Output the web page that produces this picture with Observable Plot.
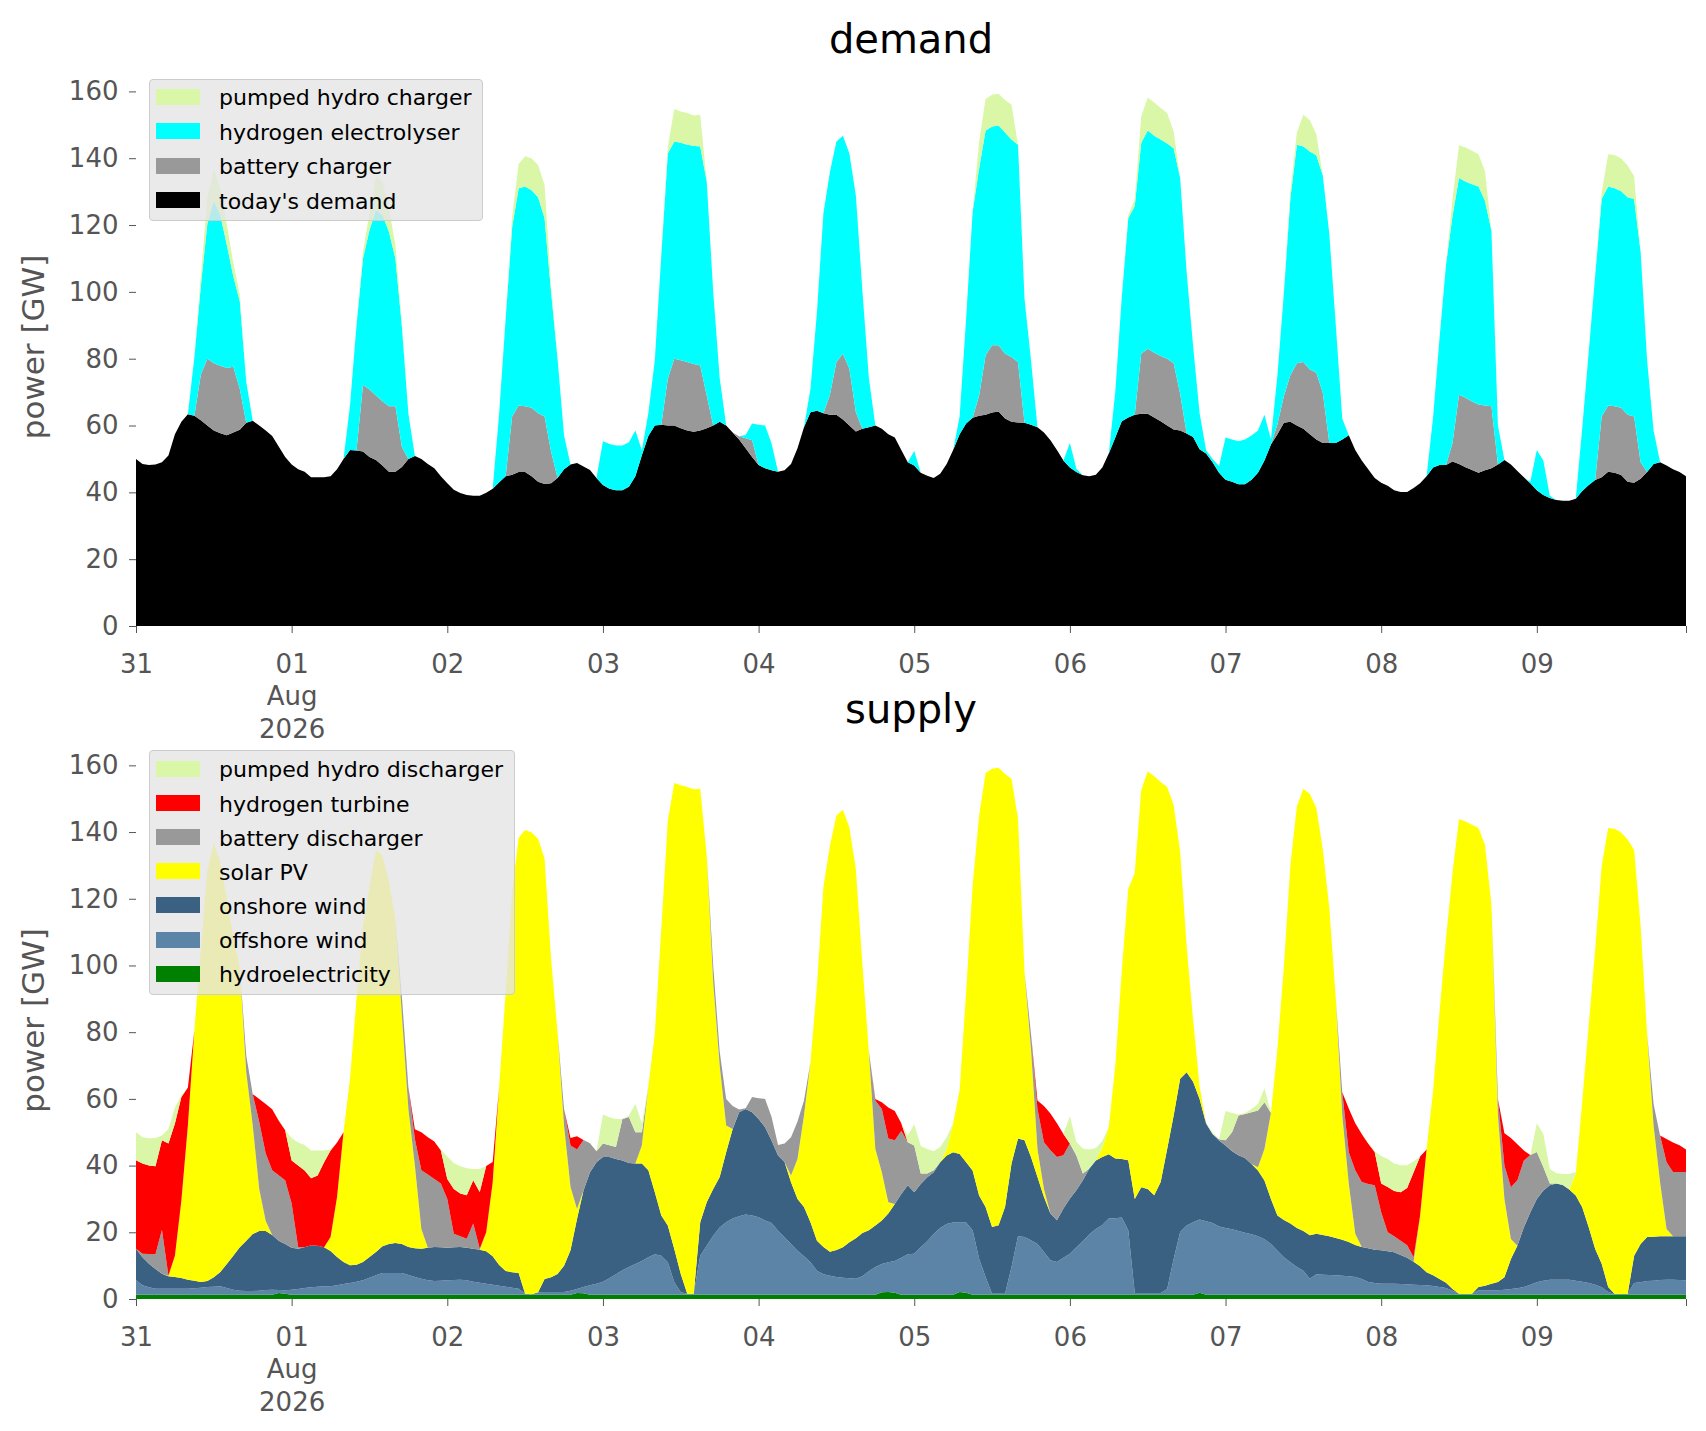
<!DOCTYPE html>
<html><head><meta charset="utf-8">
<script src="https://cdn.jsdelivr.net/npm/d3@7"></script>
<script src="https://cdn.jsdelivr.net/npm/@observablehq/plot@0.6"></script>
<style>
body{margin:0;background:#fff;font-family:"DejaVu Sans",sans-serif;}
#wrap{position:relative;width:1706px;height:1431px;overflow:hidden;background:#fff;}
#wrap svg{position:absolute;left:0;}
.title{position:absolute;left:136px;width:1550px;text-align:center;font-size:40px;line-height:40px;height:40px;color:#000;white-space:nowrap;}
.legend{position:absolute;left:149px;background:rgba(229,229,229,0.8);border:1px solid #cccccc;border-radius:4px;box-sizing:border-box;}
.sw{position:absolute;width:44px;height:16px;}
.lt{position:absolute;font-size:22px;line-height:22px;color:#000;white-space:nowrap;}
</style></head><body><div id="wrap"></div><script>
// ---- time axis: hourly from 2026-07-31 00:00 to 2026-08-09 23:00 ----
const start = Date.UTC(2026, 6, 31);
const hour = 3600e3;
const yTicks = [0, 20, 40, 60, 80, 100, 120, 140, 160];

// ---- demand side (GW) ----
const todaysDemand = [
50,48.5,48.2,48.3,49,51,57.4,61.1,63.4,62.9,61.6,60,58.5,57.7,57.1,57.9,58.7,60.8,61.4,60,58.5,56.9,53.7,50.6,
48.3,46.9,46.2,44.5,44.5,44.5,44.8,46.9,50,52.7,52.5,52.2,50.6,49.7,48,46.2,46.2,47.6,50,50.9,50,48.5,47.2,44.8,
42.7,40.8,39.8,39.2,39,39,39.9,41.1,43,44.8,45.3,46.1,46.1,44.8,43.2,42.5,42.7,44.3,46.9,48.3,48.8,47.7,46.7,44.3,
42.2,41.1,40.6,40.6,41.7,44.8,51.1,56.9,60,60.2,60,60,59.2,58.5,58.1,58.5,59.2,60,61.1,60,57.9,55.8,53.2,50.6,
48.2,47.2,46.6,46.2,46.6,48.5,53.2,59.5,64,64.4,63.7,63.2,63.2,61.8,60,58.2,59,59.5,60,59,57.4,56.4,52.7,49,
48,45.9,45,44.3,45.6,48.5,52.7,57.4,60.6,62.3,62.9,63.2,63.9,64.2,62.1,61.1,60.9,60.8,60.2,59.5,57.9,55.6,52.7,49.5,
47.4,46.1,45.1,44.8,45.3,47.4,51.6,56.4,61.3,62.4,63.2,63.5,63.5,62.4,61.3,60,58.8,58.5,57.6,56.6,52.9,51.6,49,45.9,
43.8,43.2,42.4,42.4,43.8,45.9,49.5,54.3,57.4,60.8,61.1,60,59,57.4,55.8,54.8,54.8,54.8,55.8,57.1,52.7,49.5,46.9,44.3,
42.9,42,40.6,40.1,40.1,41.3,42.7,44.8,47.4,48.2,48.2,49.2,48.5,47.5,46.7,45.9,46.6,47.2,48.3,49.7,48.3,46.4,44.5,42.7,
40.6,39.2,38.3,37.7,37.5,37.5,38.1,40.4,42.2,43.7,44.5,46.2,45.9,45.2,43.2,42.9,44.1,46.1,48.5,49,48,46.9,46.1,44.8];

const batteryCharger = [
0,0,0,0,0,0,0,0,0,0,13.7,20,20.1,20.2,20.1,19.7,12.3,0,0,0,0,0,0,0,
0,0,0,0,0,0,0,0,0,0,0,19.9,20.2,19.3,19.3,19.6,19.6,6,0,0,0,0,0,0,
0,0,0,0,0,0,0,0,0,0,17.4,19.9,19.7,20.5,20.5,20.2,9.5,0,0,0,0,0,0,0,
0,0,0,0,0,0,0,0,0,0,14,20,20.3,20.5,20.3,19.5,9.8,0,0,0,0,1,3,5,
0,0,0,0,0,0,0,0,0,0,0,6,15.8,19.7,17,5.8,0,0,0,0,0,0,0,0,
0,0,0,0,0,0,0,0,0,0,6,17.8,20.1,19.8,19.4,19.4,18,0,0,0,0,0,0,0,
0,0,0,0,0,0,0,0,0,0,0,18,19.5,19.4,19.5,20,19.8,11,0,0,0,0,0,0,
0,0,0,0,0,0,0,0,3,8,14,18.6,20,19.4,20,15,0,0,0,0,0,0,0,0,
0,0,0,0,0,0,0,0,0,0,0,5.6,20.7,20.8,20.5,20.4,19.4,18.6,0,0,0,0,0,0,
0,0,0,0,0,0,0,0,0,0,18.2,19.8,19.9,20.1,20,19.8,4.9,0,0,0,0,0,0,0];

const hydrogenElectrolyser = [
0,0,0,0,0,0,0,0,0,17.5,26.5,40.4,48.7,45.1,36.9,27.1,26.3,12.2,0,0,0,0,0,0,
0,0,0,0,0,0,0,0,0,13.3,37.5,37.9,47.7,55.5,55.7,52.2,44.2,36,13.5,0,0,0,0,0,
0,0,0,0,0,0,0,0,20.7,47.2,56.7,65,65.7,65.1,64.6,59.3,47.8,35.7,10.1,0,0,0,0,0,
13.1,13.4,13.4,13.4,13.3,13.7,1.5,6.8,19.5,50.8,67.4,65,65.1,65,65.3,65.5,64,40,13.1,0,0,0,1,5,
12,12.8,8,0,0,0,0,0,7,29.6,59.9,66.7,66,65.2,64.4,64.8,41.5,14.7,0,0,0,0,0,0,
4.4,0,0,0,0,0,0,5.3,31.4,61.7,68,67.3,65.5,65.8,66.2,65.1,65.1,37.2,19.3,0,0,0,0,0,
7.4,1,0,0,0,0,0,13.6,37.1,59.6,62.5,63.1,65.3,64.9,64.8,64.4,64.4,64.6,48.3,27.1,10.8,1,1,2,
12.6,12.6,12.9,13.4,13.2,12.6,13.7,1.5,14.6,31,53,65.4,64.5,65.2,65.1,65,62.5,35.2,6.2,0,0,0,0,0,
0,0,0,0,0,0,0,0,15,38,60,68,64.9,64.7,65,65.2,61.3,52.5,11.7,0,0,0,0,0.5,
12.1,10.3,0.7,0,0,0,0,18.8,39.8,61.2,65.1,65.5,65.2,64.8,65.1,65.1,63,33.4,10,0,0,0,0,0];

const pumpedHydroCharger = [
0,0,0,0,0,0,0,0,0,0,3,8,9.4,8,6,4,2,0,0,0,0,0,0,0,
0,0,0,0,0,0,0,0,0,0,0,2,5,10,10,7,4,1,0,0,0,0,0,0,
0,0,0,0,0,0,0,0,0,0,3,7.3,9.1,9.5,9.7,10,2,0,0,0,0,0,0,0,
0,0,0,0,0,0,0,0,0,0,2,9.7,9.4,9.5,9.1,9.5,0,0,0,0,0,0,0,0,
0,0,0,0,0,0,0,0,0,0,0,0,0,0,0,0,0,0,0,0,0,0,0,0,
0,0,0,0,0,0,0,0,0,0,8,9.4,9.5,9.5,9.7,10.4,0,0,0,0,0,0,0,0,
0,0,0,0,0,0,0,0,0,1,2,7.9,9.9,10,9.4,9.1,5,0,0,0,0,0,0,0,
0,0,0,0,0,0,0,0,0,0,2,3.7,9.5,9.4,6.3,0,0,0,0,0,0,0,0,0,
0,0,0,0,0,0,0,0,0,0,0,5,9.8,10.2,10,9.7,8.9,0,0,0,0,0,0,0,
0,0,0,0,0,0,0,0,0,0,2,9.7,10,9.8,9.5,6.8,0,0,0,0,0,0,0,0];

// ---- supply side (GW) ----
const hydroelectricity = [
1.3,1.3,1.3,1.3,1.3,1.3,1.3,1.3,1.3,1.3,1.3,1.3,1.3,1.3,1.3,1.3,1.3,1.3,1.3,1.3,1.3,1.3,1.8,1.6,
1.3,1.3,1.3,1.3,1.3,1.3,1.3,1.3,1.3,1.3,1.3,1.3,1.3,1.3,1.3,1.3,1.3,1.3,1.3,1.3,1.3,1.3,1.3,1.3,
1.3,1.3,1.3,1.3,1.3,1.3,1.3,1.3,1.3,1.3,1.3,1.3,1.3,1.3,1.3,1.3,1.3,1.3,1.3,1.3,1.8,1.7,1.3,1.3,
1.3,1.3,1.3,1.3,1.3,1.3,1.3,1.3,1.3,1.3,1.3,1.3,1.3,1.3,1.3,1.3,1.3,1.3,1.3,1.3,1.3,1.3,1.3,1.3,
1.3,1.3,1.3,1.3,1.3,1.3,1.3,1.3,1.3,1.3,1.3,1.3,1.3,1.3,1.3,1.3,1.3,1.3,1.3,2.0,2.1,1.9,1.3,1.3,
1.3,1.3,1.3,1.3,1.3,1.3,1.3,2.1,1.9,1.3,1.3,1.3,1.3,1.3,1.3,1.3,1.3,1.3,1.3,1.3,1.3,1.3,1.3,1.3,
1.3,1.3,1.3,1.3,1.3,1.3,1.3,1.3,1.3,1.3,1.3,1.3,1.3,1.3,1.3,1.3,1.3,1.3,1.3,1.3,1.9,1.3,1.3,1.3,
1.3,1.3,1.3,1.3,1.3,1.3,1.3,1.3,1.3,1.3,1.3,1.3,1.3,1.3,1.3,1.3,1.3,1.3,1.3,1.3,1.3,1.3,1.3,1.3,
1.3,1.3,1.3,1.3,1.3,1.3,1.3,1.3,1.3,1.3,1.3,1.3,1.3,1.3,1.3,1.3,1.3,1.3,1.3,1.3,1.3,1.3,1.3,1.3,
1.3,1.3,1.3,1.3,1.3,1.3,1.3,1.3,1.3,1.3,1.3,1.3,1.3,1.3,1.3,1.3,1.3,1.3,1.3,1.3,1.3,1.3,1.3,1.3];

const offshoreWind = [
4.3,2.8,2.2,1.8,1.8,1.8,1.8,1.8,1.8,1.9,2.1,2.3,2.4,2.5,2.0,1.5,1.2,1.1,1.1,1.2,1.4,1.5,0.9,1.0,
1.5,1.7,2.0,2.2,2.4,2.5,2.5,2.8,3.2,3.5,3.9,4.3,5.1,5.8,6.5,6.5,6.5,6.5,5.9,5.3,4.8,4.3,4.1,4.2,
4.3,4.4,4.5,4.3,3.9,3.6,3.3,3.0,2.7,2.4,2.1,1.8,0.3,0.1,0.7,0.8,0.8,0.8,0.8,1.2,1.2,1.9,2.8,3.3,
3.9,4.9,6.1,7.3,8.3,9.2,10.1,11.2,12.1,11.7,9.7,3.7,0.7,0.3,0.3,11.7,14.7,17.7,20.1,21.7,22.8,23.5,24.0,23.7,
23.2,22.2,21.5,19.2,17.2,15.2,13.2,11.5,9.7,7.2,6.1,5.7,5.3,5.1,4.9,4.8,5.5,7.0,8.3,8.5,8.9,9.5,11.1,12.1,
12.3,14.2,16.0,18.2,20.0,21.2,21.6,20.8,21.0,19.3,10.8,5.3,0.3,0.3,0.3,8.3,17.5,17.3,16.3,15.2,12.8,10.3,9.8,11.1,
12.3,14.2,16.0,18.1,19.7,20.9,22.8,22.9,23.1,19.3,0.5,0.5,0.5,0.5,0.5,1.7,10.7,18.8,20.7,21.7,21.9,22.0,21.5,20.4,
20.0,19.6,19.1,18.6,18.1,17.5,16.6,15.2,13.2,11.2,9.7,8.3,7.2,4.8,6.1,6.0,5.9,5.8,5.7,5.5,5.3,4.7,3.8,3.5,
3.3,3.3,3.3,3.2,3.1,3.0,2.9,2.8,2.6,2.3,2.0,1.2,0.3,0.3,0.3,1.3,1.3,1.3,1.3,1.5,1.7,1.9,2.3,3.0,
3.7,4.2,4.5,4.5,4.5,4.5,4.2,3.9,3.5,3.0,2.2,0.8,0.2,0.2,0.2,3.5,3.7,4.1,4.2,4.4,4.5,4.5,4.4,4.3];

const onshoreWind = [
9.5,8.4,7.1,5.9,4.5,3.7,3.5,3.2,2.7,2.3,1.7,1.8,2.8,4.3,7.2,10.2,13,15.1,17.1,17.9,17.7,16.4,14.8,13.9,
12.6,12.1,12.2,12.6,12.3,11.7,10.6,8.5,6.6,5.3,5.1,5.5,6.2,7.0,8.0,8.7,9.0,8.7,8.4,8.6,9.0,9.8,10.2,10.0,
9.8,9.8,9.8,9.8,9.9,9.9,9.7,8.5,6.2,4.7,4.6,4.7,0,0,0,3.9,4.4,5.4,7.9,12.1,21,28.9,33.9,36.4,
37.4,36.4,34.6,32.9,31.2,30.1,29.2,26.1,18.6,12,11,10,5.5,0,0,10,13,14,15.2,21,26.9,31.2,31.7,31,
29.5,28,24.7,22.5,22.6,18.5,15.5,14.8,12,9,8.2,7.2,8.1,9.1,10.8,12.1,13,12.3,12.4,13,14.6,17.1,19.1,20.7,
18.4,19,19.2,18.5,19.7,20.5,21.1,20.6,18.1,17.9,18.9,21,20,20.5,26,31,29.3,29,25,20.1,16.5,14,12.5,14.7,
16.5,17.1,18.3,19.7,20.5,20.4,19.3,17.9,17.6,21,28.2,31.7,31.2,29.3,33.3,42,43,45.9,46,42.1,36.2,29.3,26.7,25.8,
24.7,23.4,22.7,22.4,21.1,19.7,17.6,13.5,10.5,11.2,11.6,11.7,11.9,13,12.2,11.9,11.6,11.2,10.8,10.3,9.6,9.6,10.1,10,
10,9.7,9.4,8.7,8,6.9,5.6,3.9,3.2,2.4,1.6,0.5,0,0,0,1,1.4,2,2.5,3.7,9,12.8,17.9,21.7,
25,27,28.3,28.8,28.4,27,25.5,22.3,16.7,10.7,7.1,1.5,0,0,0,8.2,11.5,13.2,13.2,13.1,13,13,13.1,13.2];

const solarPV = [
0,0,0,0,0,0.2,6.4,23.3,46.2,74.9,99.7,123,130.2,122.9,109.6,95.7,83.8,50.5,32.5,12.6,3,0,0,0,
0,0,0,0,0,0,4.2,18,38.9,55.9,79.7,100.9,110.9,120.4,117.2,108.5,97.2,68.5,41.4,24.8,5.9,0,0,0,
0,0,0,0,0,0,5.7,22.2,53.5,83.6,114.4,130.5,139,138.5,136,126,95.5,72.5,42,19,3,0,0,0,
0,0,0,0,0,0,5.4,25.1,47.5,86,121.4,139.7,146.5,151.9,151.2,130,104,62,33.4,8,0,0,0,0,
0,0,0,0,0,2,12,27.4,48,76.5,108,121.7,130.3,131.2,124.4,110.6,80.7,53.6,23,14.5,3.4,0,0,0,
0,0,0,0,0,2,8.7,19.2,51,85.5,113.9,130.1,137.4,137.2,129.8,115.4,95.9,50.4,32.4,8.4,2.4,0,0,0,
0,0,0,0,0,2.8,8.2,27.9,56.4,81.4,97.7,119,125.2,125.6,119.9,108.5,93,68.1,37.9,18.6,3.7,0,0,0,
0,0,0,0,0,1,9.5,25.8,50,76.1,107.5,126.4,132.6,132.3,127.6,115.6,98.5,71.7,37.2,17.5,3.4,0,0,0,
0,0,0,0,0,0,15.2,36.8,55.3,80.2,103.3,124.8,142.3,141.6,140.6,137.6,132.2,113.7,49.9,23.5,6,0,0,0,
0,0,0,0,0,0,6.5,31.7,60.5,89.9,119.2,137.6,139.5,138.4,136.3,121.6,95.5,60.9,33.3,16.2,2.2,0,0,0];

const batteryDischarger = [
0,1.1,2.9,4.4,13.2,0,0,0,0,0,0,0,0,0,0,0,0,5,9.4,20.1,20.2,19.4,19.6,19.1,
13.2,0.5,0,0,0,0,0,0,0,0,0,0,0,0,0,0,0,5.6,6.5,8,17.6,21.9,20.4,19.1,
14.6,4.1,3.2,2.7,7.5,0.3,0,0,0,0,0,0,0,0,0,0,0,0,5,12.4,17.8,15.2,8.7,3.3,
4,3.5,3.6,12.5,13.8,9.4,4,0,0,0,0,0,0,0,0,0,0,5,4.2,8,6.9,0.8,0.2,4.6,
6.2,8.5,7.1,3.2,5.5,11.5,11.2,4.5,0,0,0,0,0,0,0,0,0,0,14.5,19,19.1,19.1,18.9,12.9,
14,3.1,1.1,0.6,0,0,0,0,0,0,0,0,0,0,0,0,0,0,4.5,12,14,19,19,16,
16.5,10.4,2,0,0,0,0,0,0,0,0,0,0,0,0,0,0,0,0,0,0,0,0,0.4,
1.6,5.7,11.9,13.2,15.5,17,14,0,0,0,0,0,0,0,0,0,0,0,7,9.4,19,19.5,19.3,19.3,
11.4,5.7,4.8,4.3,3.7,1.3,0,0,0,0,0,0,0,0,0,0,0,0,5,10,15.5,19.6,20,17.2,
14.1,7.1,0.5,0,0,0,0,0,0,0,0,0,0,0,0,0,0,0,6.5,14,20,19.3,19.3,19.3];

const hydrogenTurbine = [
26.5,27,26.5,26.4,26.8,39.6,39.6,31,11.4,0,0,0,0,0,0,0,0,0,0,6.9,14.9,18.3,16.4,15,
12.9,24.4,23,20.1,21,25.5,25.9,16.3,0,0,0,0,0,0,0,0,0,0,0,2.9,11.4,11.2,11.2,10,
6,13.4,12.8,13,13,17,19.9,6.1,0,0,0,0,0,0,0,0,0,0,0,2.3,4,0,0,0,
0,0,0,0,0,0,0,0,0,0,0,0,0,0,0,0,0,0,0,0,0,0,0,0,
0,0,0,0,0,0,0,0,0,0,0,0,0,0,0,0,0,0,0.5,2,9.3,8.8,2.3,0,
0,0,0,0,0,0,0,0,0,0,0,0,0,0,0,0,0,0,0,2.5,10.9,11,10.1,6.4,
0,0,0,0,0,0,0,0,0,0,0,0,0,0,0,0,0,0,0,0,0,0,0,0,
0,0,0,0,0,0,0,0,0,0,0,0,0,0,0,0,0,0,0,13.1,14.1,14.4,12.1,10,
8.6,13.6,13.6,14.5,17.2,25.5,17.7,0,0,0,0,0,0,0,0,0,0,0,0,9.7,14.8,10.8,3,0,
0,0,0,0,0,0,0,0,0,0,0,0,0,0,0,0,0,0,0,0,7,8.8,8,6.7];

const pumpedHydroDischarger = [
8.4,7.9,8.2,8.5,1.4,4.4,4.8,0.5,0,0,0,0,0,0,0,0,0,0,0,0,0,0,0.2,0,
6.8,6.9,7.7,8.3,7.5,3.5,0.3,0,0,0,0,0,0,0,0,0,0,0,0,0,0,0,0,0.2,
6.7,7.8,8.2,8.1,3.4,6.9,0,0,0,0,0,0,0,0,0,0,0,0,0,0,0,0,0,0,
8.7,8.4,8.4,0,0.4,8.5,2.6,0,0,0,0,0,0,0,0,0,0,0,0,0,0,0,0,0,
0,0,0,0,0,0,0,0,0,0,0,0,0,0,0,0,0,0,0,0,0,0,0,2,
6.4,8.3,7.4,5.7,4.6,3.5,0,0,0,0,0,0,0,0,0,0,0,0,0,0,0,0,0,0,
8.2,4.1,7.5,5.7,3.8,2,0,0,0,0,0,0,0,0,0,0,0,0,0,0,0,0,0.5,0,
8.8,5.8,0.3,0.3,1,2,4.2,0,0,0,0,0,0,0,0,0,0,0,0,0,0,0,0.3,0.2,
8.3,8.4,8.2,8.1,6.8,3.3,0,0,0,0,0,0,0,0,0,0,0,0,0,0,0,0,0,0,
8.6,9.9,4.4,3.1,3.3,4.7,0.6,0,0,0,0,0,0,0,0,0,0,0,0,0,0,0,0,0];

// ---- series names (stack order bottom -> top) and colours ----
const demandSeries = [
  ["today's demand", todaysDemand, "#000000"],
  ["battery charger", batteryCharger, "#999999"],
  ["hydrogen electrolyser", hydrogenElectrolyser, "#00ffff"],
  ["pumped hydro charger", pumpedHydroCharger, "#d9f7a7"]
];
const supplySeries = [
  ["hydroelectricity", hydroelectricity, "#008000"],
  ["offshore wind", offshoreWind, "#5c84a6"],
  ["onshore wind", onshoreWind, "#3b6182"],
  ["solar PV", solarPV, "#ffff00"],
  ["battery discharger", batteryDischarger, "#999999"],
  ["hydrogen turbine", hydrogenTurbine, "#ff0000"],
  ["pumped hydro discharger", pumpedHydroDischarger, "#d9f7a7"]
];

function longData(list) {
  const out = [];
  for (const [name, arr] of list) arr.forEach((v, i) => out.push({date: new Date(start + i * hour), series: name, value: v}));
  return out;
}

const endDate = new Date(start + 239 * hour);
const xTicks = d3.range(10).map(d => new Date(start + d * 24 * hour)).concat([endDate]);
const fmt = d => {
  if (+d === +endDate) return "";
  const day = d.getUTCDate();
  const s = String(day).padStart(2, "0");
  return (d.getUTCMonth() === 7 && day === 1) ? s + "\nAug\n2026" : s;
};

function makeChart(list, height, marginTop, marginBottom, yMax) {
  return Plot.plot({
    width: 1706, height,
    marginLeft: 136, marginRight: 20, marginTop, marginBottom,
    style: {background: "transparent", fontFamily: "DejaVu Sans", fontSize: "26px", color: "#555555", overflow: "visible"},
    x: {type: "utc", domain: [new Date(start), endDate]},
    y: {domain: [0, yMax]},
    color: {type: "ordinal", domain: list.map(d => d[0]), range: list.map(d => d[2])},
    marks: [
      Plot.areaY(longData(list), {x: "date", y: "value", fill: "series", order: list.map(d => d[0])}),
      Plot.axisX({ticks: xTicks, tickFormat: fmt, tickSize: 7, tickPadding: 16, fontSize: 26, lineHeight: 1.25, label: null}),
      Plot.axisY({ticks: yTicks, tickSize: 7, tickPadding: 11, fontSize: 26, label: null}),
      Plot.text(["power [GW]"], {frameAnchor: "left", textAnchor: "middle", lineAnchor: "middle", dx: -102, rotate: -90, fontSize: 31, fill: "#555555"})
    ]
  });
}

const wrap = document.getElementById("wrap");
const c1 = makeChart(demandSeries, 741, 67, 115, 167.3);
c1.style.top = "0px";
wrap.appendChild(c1);
const c2 = makeChart(supplySeries, 690, 0, 132, 167.3);
c2.style.top = "741px";
wrap.appendChild(c2);

function addTitle(text, baseline) {
  const t = document.createElement("div");
  t.className = "title";
  t.textContent = text;
  t.style.top = (baseline - 33.8) + "px";
  wrap.appendChild(t);
}
addTitle("demand", 52.5);
addTitle("supply", 723);

function addLegend(list, top, bottom, width, firstRow, step) {
  const box = document.createElement("div");
  box.className = "legend";
  box.style.top = top + "px";
  box.style.height = (bottom - top) + "px";
  box.style.width = width + "px";
  wrap.appendChild(box);
  list.slice().reverse().forEach(([name, , color], i) => {
    const cy = firstRow + i * step;
    const sw = document.createElement("div");
    sw.className = "sw";
    sw.style.left = "156px";
    sw.style.top = (cy - 8) + "px";
    sw.style.background = color;
    wrap.appendChild(sw);
    const lt = document.createElement("div");
    lt.className = "lt";
    lt.style.left = "219px";
    lt.style.top = (cy + 9 - 18.6) + "px";
    lt.textContent = name;
    wrap.appendChild(lt);
  });
}
addLegend(demandSeries, 79, 220.5, 334, 97, 34.4);
addLegend(supplySeries, 750.3, 994.6, 366, 769, 34.1);
</script></body></html>
